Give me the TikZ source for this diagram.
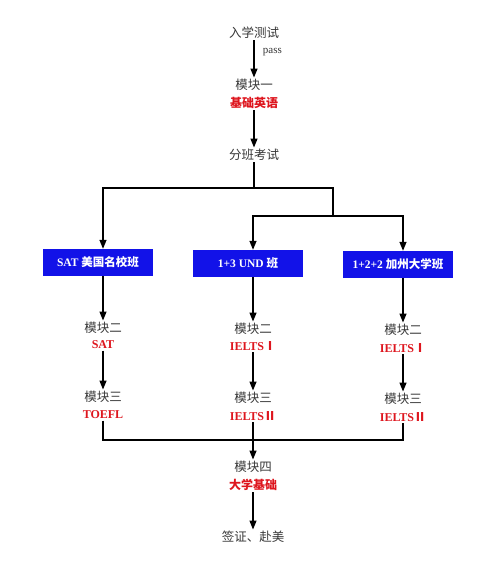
\documentclass[tikz,border=0pt]{standalone}
\usepackage{fontspec}
\setmainfont{Liberation Serif}
\newfontfamily\cjk{Noto Sans CJK SC}
\usetikzlibrary{arrows.meta}
\definecolor{boxblue}{RGB}{18,18,232}
\definecolor{lblred}{RGB}{222,22,30}
\definecolor{txtgrey}{RGB}{55,55,55}
\tikzset{
  arr/.style={line width=1.3pt, -{Triangle[length=9pt,width=7pt]}},
  ln/.style={line width=1.3pt},
  head/.style={text=txtgrey, font=\fontsize{12.5}{13}\selectfont\cjk, inner sep=1.5pt},
  red/.style={text=lblred, font=\fontsize{12}{13}\selectfont\bfseries, inner sep=1.5pt},
  cls/.style={fill=boxblue, text=white, font=\fontsize{11.5}{13}\selectfont\bfseries,
    minimum width=110pt, minimum height=27pt, inner sep=0pt},
}
\begin{document}
\begin{tikzpicture}[x=1pt,y=-1pt]
\useasboundingbox[fill=white] (0,0) rectangle (491,568);
% top chain
\node[head] (t0) at (254,33) {入学测试};
\node[head] (m1) at (254,85) {模块一};
\node[red] (m1r) at (254,103) {\cjk 基础英语};
\node[head] (fz) at (254,155) {分班考试};
\draw[arr] (t0.south) -- node[pos=0.3, right=5pt, text=txtgrey, font=\fontsize{11}{12}\selectfont] {pass} (m1.north);
\draw[arr] (m1r.south) -- (fz.north);
% class boxes
\node[cls] (b1) at (98,262.5) {SAT {\cjk 美国名校班}};
\node[cls] (b2) at (248,263.5) {1+3 UND {\cjk 班}};
\node[cls] (b3) at (398,264.5) {1+2+2 {\cjk 加州大学班}};
% module two / three nodes (columns at x = 103, 253, 403)
\node[head] (m2a) at (103,328) {模块二};
\node[red] (m2ar) at (103,345) {SAT};
\node[head] (m2b) at (253,329) {模块二};
\node[red] (m2br) at (253,346) {IELTS{\cjk Ⅰ}};
\node[head] (m2c) at (403,330) {模块二};
\node[red] (m2cr) at (403,348) {IELTS{\cjk Ⅰ}};
\node[head] (m3a) at (103,397) {模块三};
\node[red] (m3ar) at (103,415) {TOEFL};
\node[head] (m3b) at (253,398) {模块三};
\node[red] (m3br) at (253,416) {IELTS{\cjk Ⅱ}};
\node[head] (m3c) at (403,399) {模块三};
\node[red] (m3cr) at (403,417) {IELTS{\cjk Ⅱ}};
% branching
\coordinate (j1) at (254,188);
\coordinate (j2) at (333,188);
\coordinate (j3) at (333,216);
\draw[ln] (fz.south) -- (j1);
\draw[arr] (j1) -| (b1.north -| m2a);
\draw[ln] (j1) -- (j2) -- (j3);
\draw[arr] (j3) -| (b2.north -| m2b);
\draw[arr] (j3) -| (b3.north -| m2c);
\draw[arr] (b1.south -| m2a) -- (m2a.north);
\draw[arr] (b2.south -| m2b) -- (m2b.north);
\draw[arr] (b3.south -| m2c) -- (m2c.north);
\draw[arr] (m2ar.south) -- (m3a.north);
\draw[arr] (m2br.south) -- (m3b.north);
\draw[arr] (m2cr.south) -- (m3c.north);
% module four
\node[head] (m4) at (253,467) {模块四};
\node[red] (m4r) at (253,485) {\cjk 大学基础};
\node[head] (vs) at (253,537) {签证、赴美};
\coordinate (h) at (253,440);
\draw[ln] (m3ar.south) |- (h);
\draw[ln] (m3cr.south) |- (h);
\draw[arr] (m3br.south) -- (m4.north);
\draw[arr] (m4r.south) -- (vs.north);
\end{tikzpicture}
\end{document}
